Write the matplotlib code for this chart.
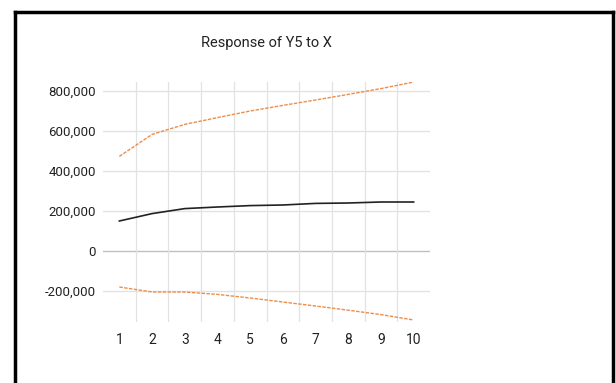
# impulse response of Y5 to a shock in X, with confidence bands

import matplotlib.pyplot as plt
import numpy as np
from matplotlib.lines import Line2D

periods = [1, 2, 3, 4, 5, 6, 7, 8, 9, 10]
response = [150000, 187000, 212000, 220000, 227000, 230000, 238000, 240000, 245000, 245000]
upper = [473000, 583000, 633000, 667000, 700000, 728000, 755000, 783000, 812000, 845000]
lower = [-180000, -205000, -205000, -217000, -235000, -255000, -275000, -296000, -318000, -345000]
y_ticks = [-200000, 0, 200000, 400000, 600000, 800000]

plt.rcParams['font.family'] = ['Roboto', 'DejaVu Sans']

fig = plt.figure(figsize=(6.16, 3.83), dpi=100)
ax = fig.add_axes([103/616, 1 - 322/383, 327/616, 240/383])

x = np.arange(len(periods))

# gridlines: horizontal at ticks, vertical between categories
for v in y_ticks:
    ax.axhline(v, color='#c0c0c0' if v == 0 else '#e2e2e2', lw=1, zorder=0)
for b in x[:-1] + 0.5:
    ax.axvline(b, color='#e2e2e2', lw=0.9, zorder=0)

ax.plot(x, upper, color='#ee8c4a', lw=1, ls=(0, (2.5, 1)))
ax.plot(x, response, color='#222222', lw=1.2)
ax.plot(x, lower, color='#ee8c4a', lw=1, ls=(0, (2.5, 1)))

ax.set_xlim(-0.5, len(periods) - 0.5)
ax.set_ylim(-355000, 845000)
ax.set_xticks(x)
ax.set_xticklabels([str(p) for p in periods])
ax.set_yticks(y_ticks)
ax.set_yticklabels([f'{v:,}' for v in y_ticks])
ax.tick_params(length=0, labelsize=9.5, labelcolor='#222222')
ax.tick_params(axis='x', pad=8, labelsize=10)
ax.tick_params(axis='y', pad=5)
for s in ax.spines.values():
    s.set_visible(False)

fig.text(266/616, 1 - 43/383, 'Response of Y5 to X', ha='center', va='center',
         fontsize=10.5, color='#222222')

# outer frame of the chart area
for xs, ys in [((15/616, 15/616), (0, 1 - 12/383)),
               ((15/616, 613/616), (1 - 12/383, 1 - 12/383)),
               ((613/616, 613/616), (0, 1 - 12/383))]:
    fig.add_artist(Line2D(xs, ys, color='black', lw=2.5, transform=fig.transFigure))

fig.savefig('out.png', dpi=100)
